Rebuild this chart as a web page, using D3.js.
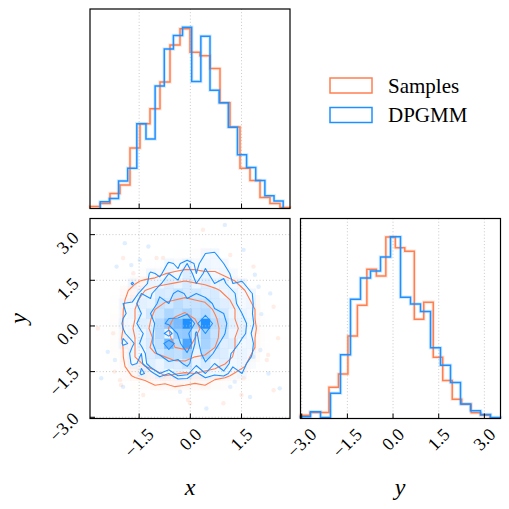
<!DOCTYPE html>
<html>
<head>
<meta charset="utf-8">
<script src="https://d3js.org/d3.v7.min.js"></script>
<style>
  body { margin: 0; background: #fff; }
  text { font-family: "Liberation Serif", "DejaVu Serif", serif; fill: #000; }
</style>
</head>
<body>
<script>
// ---- data ----
const names = ["Samples", "DPGMM"];
const colors = ["#ff7f50", "#1e90ff"];

// ranges covered by each set of 20 bins
const xRangeSamples = [-2.94, 2.92];
const xRangeDpgmm = [-2.64, 2.72];
const yRangeSamples = [-3.04, 3.19];
const yRangeDpgmm = [-3.04, 3.53];

// marginal histograms (counts per bin)
const xCountsSamples = [6, 15, 45, 70, 180, 252, 297, 377, 487, 535, 465, 455, 417, 315, 243, 120, 83, 33, 15, 3];
const xCountsDpgmm = [20, 30, 82, 120, 252, 207, 365, 475, 515, 540, 378, 513, 352, 315, 242, 160, 122, 83, 38, 22];
const yCountsSamples = [10, 18, 18, 93, 132, 245, 336, 443, 423, 539, 507, 497, 295, 345, 182, 113, 57, 42, 17, 10];
const yCountsDpgmm = [5, 20, 3, 75, 189, 354, 417, 438, 480, 540, 360, 340, 318, 210, 158, 107, 43, 23, 12, 3];

const xTicks = [-1.5, 0, 1.5];
const yTicks = [-3, -1.5, 0, 1.5, 3];

// 2D histograms, one row per y bin (low y first), one column per x bin
const gridSamples = [
  [0,0,0,0,0,0,0,1,1,1,1,1,0,0,0,0,0,0,0,0],
  [0,0,0,0,0,1,1,1,1,1,1,1,1,1,0,0,0,0,0,0],
  [0,0,0,0,1,1,2,2,3,3,2,2,2,1,1,0,0,0,0,0],
  [0,0,1,2,4,6,9,8,10,9,8,9,6,5,3,1,1,0,0,0],
  [0,0,2,7,10,12,11,14,13,12,13,12,11,10,8,5,2,1,0,0],
  [0,1,3,9,12,14,16,17,19,18,17,16,15,13,11,9,3,1,0,0],
  [0,1,4,10,14,17,20,22,24,25,22,21,19,17,13,10,8,2,0,0],
  [0,1,5,10,14,19,25,28,32,34,30,26,22,18,14,11,9,3,1,0],
  [0,1,5,11,14,19,23,29,34,36,32,28,24,18,14,11,9,3,1,0],
  [0,1,5,10,15,20,25,30,36,40,34,30,24,19,15,12,10,3,1,0],
  [0,1,5,10,14,19,24,28,33,36,32,28,23,18,14,11,9,3,1,0],
  [0,1,4,10,14,18,22,25,28,30,27,25,21,17,14,11,9,2,1,0],
  [0,1,3,9,13,16,19,21,22,23,22,21,18,15,13,10,8,2,0,0],
  [0,0,2,8,11,14,16,17,18,19,18,17,15,13,11,9,3,1,0,0],
  [0,0,1,3,8,10,11,12,13,14,13,12,11,10,9,3,1,0,0,0],
  [0,0,0,1,2,3,5,8,9,10,10,9,9,8,3,1,0,0,0,0],
  [0,0,0,0,1,1,2,3,4,5,5,5,4,3,1,0,0,0,0,0],
  [0,0,0,0,0,1,1,1,2,2,3,7,2,1,1,0,0,0,0,0],
  [0,0,0,0,0,0,1,1,1,1,1,1,1,0,0,0,0,0,0,0],
  [0,0,0,0,0,0,0,1,1,1,1,0,0,0,0,0,0,0,0,0]
];
const gridDpgmm = [
  [0,0,0,0,0,0,0,1,0,0,1,0,0,0,0,0,0,0,0,0],
  [0,0,0,0,0,1,0,1,1,0,1,1,0,1,0,0,0,0,0,0],
  [0,0,0,0,1,0,1,1,1,2,1,1,1,0,1,0,0,0,0,0],
  [0,0,1,1,2,3,3,4,5,5,4,5,3,3,2,1,1,0,0,0],
  [0,1,1,3,10,7,12,9,14,13,8,12,10,11,7,9,2,1,0,0],
  [0,1,3,10,8,15,12,17,16,20,13,17,12,15,10,11,7,2,1,0],
  [1,1,4,11,9,16,19,22,21,25,12,23,17,16,11,12,10,2,1,0],
  [1,1,10,8,13,17,21,32,22,36,15,25,21,15,16,10,11,3,1,1],
  [1,2,8,12,11,16,23,13,27,28,17,26,20,19,12,14,9,3,1,1],
  [1,2,10,9,15,14,23,28,31,40,23,40,22,20,14,13,11,4,1,1],
  [1,2,8,11,12,18,19,24,22,25,21,23,19,18,12,12,10,3,1,0],
  [1,1,9,10,14,13,20,18,22,19,20,21,17,15,14,9,11,2,1,0],
  [0,1,3,3,12,11,17,16,20,17,18,16,17,12,13,9,10,2,1,0],
  [0,1,2,10,3,12,11,16,13,17,12,16,12,13,9,11,2,1,0,0],
  [0,0,1,2,3,10,8,12,10,16,9,13,10,11,8,2,1,0,0,0],
  [0,0,1,1,2,3,3,10,8,12,8,11,10,9,2,1,1,0,0,0],
  [0,0,0,0,1,1,2,2,3,3,3,9,10,2,1,1,0,0,0,0],
  [0,0,0,0,0,1,1,1,2,2,1,2,2,1,1,0,0,0,0,0],
  [0,0,0,0,0,0,1,0,1,1,1,1,0,0,0,0,0,0,0,0],
  [0,0,0,0,0,0,0,0,0,0,0,0,0,0,0,0,0,0,0,0]
];

// a few of the faint scattered points outside the contours
const pointsSamples = [[0.37,3.16],[-2.03,-1.94],[-0.07,-2.43],[2.28,-0.95],[-2.71,-0.08],[1.5,-2.27],
  [-0.8,2.23],[1.6,0.53],[-2.22,-1.5],[2.57,-0.4],[-1.97,2.23],[-0.99,2.23],[-1.67,1.73],[1.85,1.95],
  [2.44,0.63],[1.17,2.33],[-2.26,-0.24],[-2.06,-1.78],[-1.38,-2.27],[-0.01,-2.54],[2.24,-1.12],
  [1.56,-1.72],[0.97,-2.54],[2.44,-2.11]];
const pointsDpgmm = [[1.01,3.32],[2.08,0.39],[2.62,-2.05],[-2.61,-1.72],[0.47,-2.71],[-1.73,2.0],
  [1.84,-1.01],[1.3,-1.83],[-2.42,-0.85],[1.89,1.68],[-1.92,2.72],[-1.48,2.17],[-2.16,1.95],[-1.23,2.61],
  [2.0,1.29],[2.34,1.07],[1.56,2.5],[-2.21,-1.12],[-1.97,-2.0],[-0.3,-2.16],[2.05,-0.79],[2.29,-1.56],
  [1.75,-2.33],[1.17,-2.0]];

// ---- drawing ----
const sigmaLevels = [0.5, 1, 1.5, 2].map(s => 1 - Math.exp(-0.5 * s * s));
const fmt = d3.format(".1f");
const tickFont = 18;

const svg = d3.select("body").append("svg")
    .attr("width", 509).attr("height", 509)
    .style("background", "#fff");

const x = d3.scaleLinear().domain([-2.94, 2.92]).range([90, 290]);
const y = d3.scaleLinear().domain([-3.04, 3.53]).range([418.5, 218.5]);
const yb = d3.scaleLinear().domain([-3.04, 3.53]).range([300.5, 500.5]);
const hx = d3.scaleLinear().domain([0, 1.1 * d3.max(xCountsSamples.concat(xCountsDpgmm))]).range([208.5, 9]);
const hy = d3.scaleLinear().domain([0, 1.1 * d3.max(yCountsSamples.concat(yCountsDpgmm))]).range([418.5, 218.5]);

function edges(range, n) {
    return d3.range(n + 1).map(k => range[0] + k * (range[1] - range[0]) / n);
}

function stepPath(counts, range, sx, sy) {
    const e = edges(range, counts.length);
    const pts = [[e[0], 0]];
    counts.forEach((c, k) => { pts.push([e[k], c]); pts.push([e[k + 1], c]); });
    pts.push([e[counts.length], 0]);
    return d3.line().x(d => sx(d[0])).y(d => sy(d[1]))(pts);
}

function vGrid(g, ticks, sx, y0, y1) {
    g.selectAll(null).data(ticks).join("line")
        .attr("x1", d => sx(d)).attr("x2", d => sx(d)).attr("y1", y0).attr("y2", y1)
        .attr("stroke", "#bbb").attr("stroke-width", 0.8).attr("stroke-dasharray", "1,2.2");
}
function hGrid(g, ticks, sy, x0, x1) {
    g.selectAll(null).data(ticks).join("line")
        .attr("y1", d => sy(d)).attr("y2", d => sy(d)).attr("x1", x0).attr("x2", x1)
        .attr("stroke", "#bbb").attr("stroke-width", 0.8).attr("stroke-dasharray", "1,2.2");
}
function bottomTicks(g, ticks, sx, yb0) {
    g.selectAll(null).data(ticks).join("line")
        .attr("x1", d => sx(d)).attr("x2", d => sx(d)).attr("y1", yb0).attr("y2", yb0 - 5)
        .attr("stroke", "#000").attr("stroke-width", 1);
}
function frame(g, x0, y0, x1, y1) {
    g.append("rect").attr("x", x0).attr("y", y0).attr("width", x1 - x0).attr("height", y1 - y0)
        .attr("fill", "none").attr("stroke", "#000").attr("stroke-width", 1.2);
}
function xLabels(g, ticks, sx, top) {
    ticks.forEach(t => {
        const txt = g.append("text").attr("font-size", tickFont)
            .attr("text-anchor", "middle").attr("dominant-baseline", "central").text(fmt(t));
        const s = (txt.node().getComputedTextLength() + 0.7 * tickFont) / Math.SQRT2;
        txt.attr("transform", `translate(${sx(t)},${top + s / 2}) rotate(-45)`);
    });
}
function yLabels(g, ticks, sy, right) {
    ticks.forEach(t => {
        const txt = g.append("text").attr("font-size", tickFont)
            .attr("text-anchor", "middle").attr("dominant-baseline", "central").text(fmt(t));
        const s = (txt.node().getComputedTextLength() + 0.7 * tickFont) / Math.SQRT2;
        txt.attr("transform", `translate(${right - s / 2},${sy(t) + 2 + 0.25 * s}) rotate(-45)`);
    });
}

// ---- top: x marginal ----
const gTop = svg.append("g");
vGrid(gTop, xTicks, x, 9, 208.5);
[[xCountsSamples, xRangeSamples], [xCountsDpgmm, xRangeDpgmm]].forEach(([c, r], k) => {
    gTop.append("path").attr("d", stepPath(c, r, x, hx)).attr("fill", "none")
        .attr("stroke", colors[k]).attr("stroke-opacity", 0.18).attr("stroke-width", 3.5);
    gTop.append("path").attr("d", stepPath(c, r, x, hx)).attr("fill", "none")
        .attr("stroke", colors[k]).attr("stroke-width", 1.5);
});
bottomTicks(gTop, xTicks, x, 208.5);
frame(gTop, 90, 9, 290, 208.5);

// ---- right: y marginal ----
const gRight = svg.append("g");
vGrid(gRight, yTicks, yb, 218.5, 418.5);
[[yCountsSamples, yRangeSamples], [yCountsDpgmm, yRangeDpgmm]].forEach(([c, r], k) => {
    gRight.append("path").attr("d", stepPath(c, r, yb, hy)).attr("fill", "none")
        .attr("stroke", colors[k]).attr("stroke-opacity", 0.18).attr("stroke-width", 3.5);
    gRight.append("path").attr("d", stepPath(c, r, yb, hy)).attr("fill", "none")
        .attr("stroke", colors[k]).attr("stroke-width", 1.5);
});
bottomTicks(gRight, yTicks, yb, 418.5);
frame(gRight, 300.5, 218.5, 500.5, 418.5);
xLabels(gRight, yTicks, yb, 427);

// ---- 2D panel ----
svg.append("clipPath").attr("id", "clip2d").append("rect")
    .attr("x", 90).attr("y", 218.5).attr("width", 200).attr("height", 200);
const g2 = svg.append("g").attr("clip-path", "url(#clip2d)");

function thresholds(grid) {
    const flat = grid.flat().sort((a, b) => b - a);
    const total = d3.sum(flat);
    let cum = 0;
    const sm = flat.map(v => (cum += v) / total);
    return sigmaLevels.map(l => {
        let v = flat[0];
        for (let k = 0; k < flat.length; k++) if (sm[k] <= l) v = flat[k];
        return v;
    }).sort((a, b) => a - b);
}
function gridGeoPath(xr, yr, n, m) {
    const bx = (xr[1] - xr[0]) / n, by = (yr[1] - yr[0]) / m;
    return d3.geoPath(d3.geoTransform({
        point(px, py) { this.stream.point(x(xr[0] + px * bx), y(yr[0] + py * by)); }
    }));
}

const sets = [
    { grid: gridSamples, xr: xRangeSamples, yr: yRangeSamples, pts: pointsSamples, color: colors[0] },
    { grid: gridDpgmm, xr: xRangeDpgmm, yr: yRangeDpgmm, pts: pointsDpgmm, color: colors[1] }
];
sets.forEach(s => {
    s.levels = thresholds(s.grid);
    s.path = gridGeoPath(s.xr, s.yr, s.grid[0].length, s.grid.length);
    s.contours = d3.contours().size([s.grid[0].length, s.grid.length]).thresholds(s.levels)(s.grid.flat());
});

// data points (lowest layer)
sets.forEach(s => {
    g2.append("g").selectAll("circle").data(s.pts).join("circle")
        .attr("cx", d => x(d[0])).attr("cy", d => y(d[1])).attr("r", 2.2)
        .attr("fill", s.color).attr("fill-opacity", 0.14);
});

// white base fill then density cells, per data set
sets.forEach(s => {
    g2.append("path").attr("d", s.path(s.contours[0])).attr("fill", "#fff");
    const n = s.grid[0].length, m = s.grid.length;
    const ex = edges(s.xr, n), ey = edges(s.yr, m);
    const hmax = d3.max(s.grid.flat());
    const cells = [];
    s.grid.forEach((row, j) => row.forEach((v, i) => { if (v > 0) cells.push({ i, j, t: v / hmax }); }));
    const mix = d3.interpolateRgb("#ffffff", s.color);
    g2.append("g").selectAll("rect").data(cells).join("rect")
        .attr("x", d => x(ex[d.i])).attr("width", d => x(ex[d.i + 1]) - x(ex[d.i]) + 0.3)
        .attr("y", d => y(ey[d.j + 1])).attr("height", d => y(ey[d.j]) - y(ey[d.j + 1]) + 0.3)
        .attr("fill", d => mix(d.t)).attr("fill-opacity", d => d.t);
});

vGrid(g2, xTicks, x, 218.5, 418.5);
hGrid(g2, yTicks, y, 90, 290);

// contour lines
sets.forEach(s => {
    g2.append("g").selectAll("path").data(s.contours).join("path")
        .attr("d", d => s.path(d)).attr("fill", "none")
        .attr("stroke", s.color).attr("stroke-width", 1.1).attr("stroke-linejoin", "round");
});

const gAx = svg.append("g");
bottomTicks(gAx, xTicks, x, 418.5);
gAx.selectAll(null).data(yTicks).join("line")
    .attr("x1", 90).attr("x2", 95).attr("y1", d => y(d)).attr("y2", d => y(d))
    .attr("stroke", "#000").attr("stroke-width", 1);
frame(gAx, 90, 218.5, 290, 418.5);
xLabels(gAx, xTicks, x, 427);
yLabels(gAx, yTicks, y, 80);

// axis labels
svg.append("text").attr("x", 190).attr("y", 495).attr("text-anchor", "middle")
    .attr("font-size", 24).attr("font-style", "italic").text("x");
svg.append("text").attr("x", 400).attr("y", 495).attr("text-anchor", "middle")
    .attr("font-size", 24).attr("font-style", "italic").text("y");
svg.append("text").attr("transform", "translate(26,318.5) rotate(-90)").attr("text-anchor", "middle")
    .attr("font-size", 24).attr("font-style", "italic").text("y");

// legend
const legend = svg.append("g");
names.forEach((nm, k) => {
    const cy = 85.5 + k * 29.5;
    legend.append("rect").attr("x", 330).attr("y", cy - 7.5).attr("width", 42).attr("height", 15)
        .attr("fill", "none").attr("stroke", colors[k]).attr("stroke-width", 1.5);
    legend.append("text").attr("x", 388).attr("y", cy + 7).attr("font-size", 21).text(nm);
});
</script>
</body>
</html>
